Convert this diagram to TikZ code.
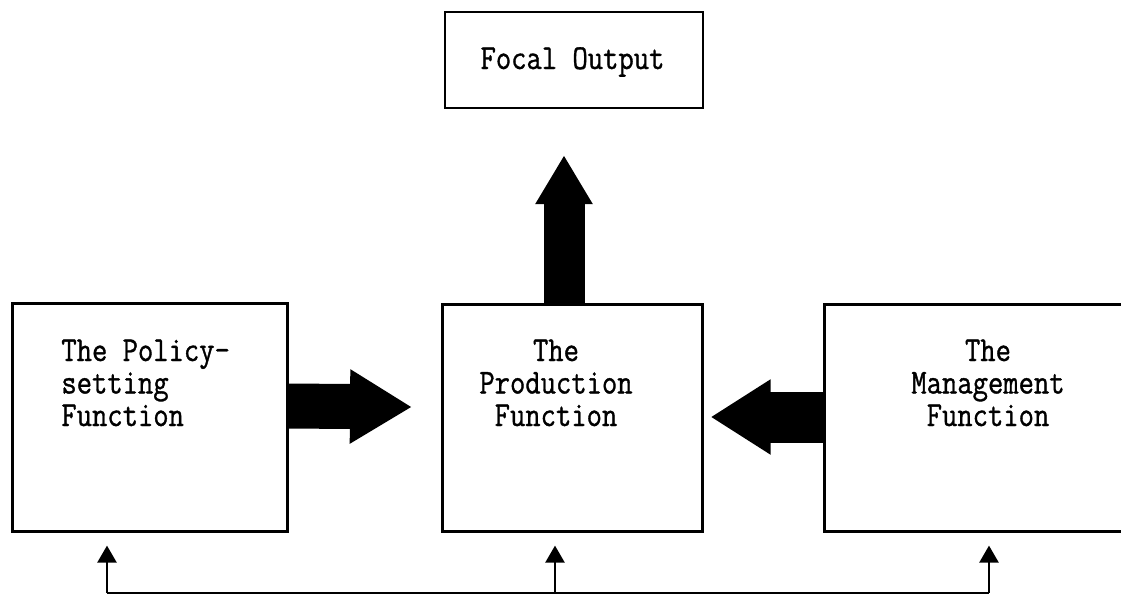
\documentclass[tikz,border=0pt]{standalone}
\usepackage{fontspec}
\usetikzlibrary{arrows.meta,calc}
% typewriter face, narrowed and darkened a little
\newfontfamily\tw[FakeStretch=0.85,FakeBold=1]{Latin Modern Mono}
\begin{document}
\begin{tikzpicture}[x=0.5pt,y=-0.5pt,
  box/.style={draw,line width=1.3pt,inner sep=0pt,anchor=north west},
  lbl/.style={inner sep=0pt,font=\tw\fontsize{17.5}{16.25}\selectfont},
  fb/.style={line width=1.2pt,-{Triangle[width=9.5pt,length=8.5pt]},shorten >=6.5pt}]
\clip (0,0) rectangle (1121,594);

% boxes
\node[box,line width=1.1pt,minimum width=129pt,minimum height=48pt] (focal) at (444,11) {};
\node[box,minimum width=137.5pt,minimum height=114pt] (pol) at (11,302) {};
\node[box,minimum width=130pt,minimum height=113.5pt] (prod) at (441,303) {};
\node[box,minimum width=170pt,minimum height=113.5pt] (mgmt) at (823,303) {};

% labels (base anchor sits on the last line)
\node[lbl,anchor=base] (focaltxt) at (572.5,69) {Focal Output};
\node[lbl,anchor=base west,align=left] (poltxt) at (61,426) {The Policy-\\setting\\Function};
\node[lbl,anchor=base,align=center] (prodtxt) at (556,426) {The\\Production\\Function};
\node[lbl,anchor=base,align=center] (mgmttxt) at (988,426) {The\\Management\\Function};

% heavy flow arrows
\draw[line width=22.5pt,-{Triangle[width=35pt,length=31pt]}]
  ($(pol.north east)+(0,104)$) -- ($(prod.north west)+(-29,104)$);
\draw[line width=20.5pt,-{Triangle[width=27pt,length=24.5pt]}]
  ($(prod.north west)+(123,0)$) -- ($(focal.south west)+(120,46)$);
\draw[line width=25.5pt,-{Triangle[width=35.5pt,length=30pt]}]
  ($(mgmt.north west)+(0,114)$) -- ($(prod.north east)+(7,114)$);

% feedback line along the bottom
\coordinate (f1) at (107,593);
\coordinate (f2) at (555,593);
\coordinate (f3) at (989,593);
\draw[line width=1pt] (f1) -- (f3);
\draw[fb] (f1) -- (f1 |- pol.south);
\draw[fb] (f2) -- (f2 |- prod.south);
\draw[fb] (f3) -- (f3 |- mgmt.south);
\end{tikzpicture}
\end{document}
